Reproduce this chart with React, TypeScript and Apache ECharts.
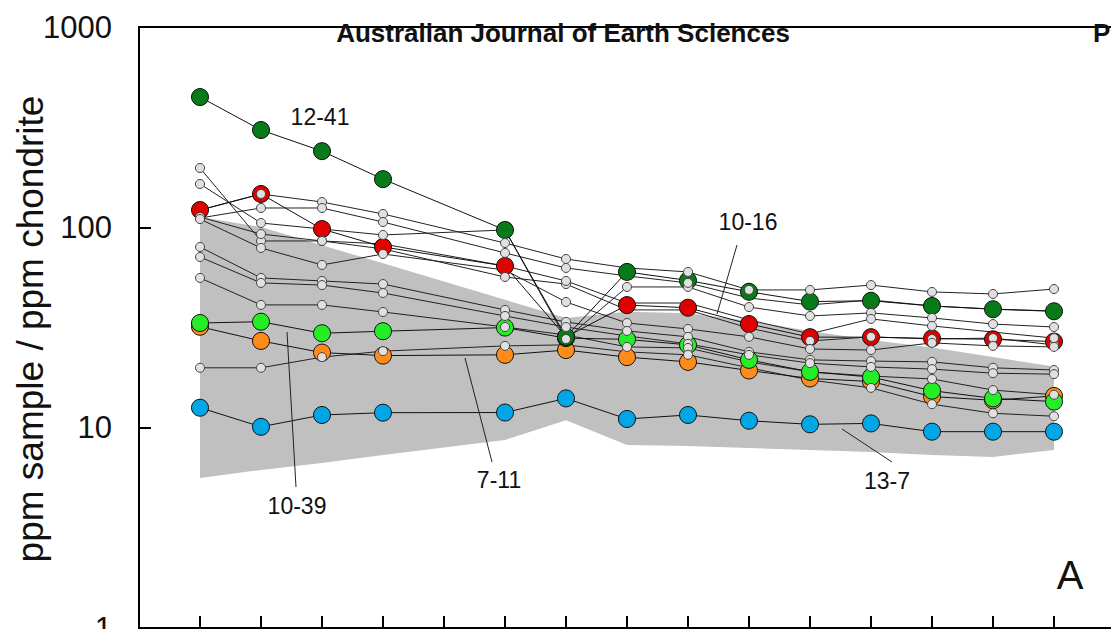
import React, { useEffect, useRef } from "react";
import * as echarts from "echarts";

// Chondrite-normalised REE (Pm not analysed)
const ELEMENTS = ["La", "Ce", "Pr", "Nd", "Pm", "Sm", "Eu", "Gd", "Tb", "Dy", "Ho", "Er", "Tm", "Yb", "Lu"];
const Y_TICKS = [1, 10, 100, 1000];

// grey reference field
const fieldUpper = [112.6, 100.4, 81.4, 66.1, null, 43.5, 35.3, 37.9, 37.2, 34.1, 30.4, 27.4, 25.1, 22.5, 20.2];
const fieldLower = [5.61, 6.15, 6.66, 7.3, null, 8.68, 10.9, 8.19, 8.1, 7.92, 7.74, 7.56, 7.3, 7.14, 7.74];

// highlighted samples
const s12_41 = [447, 306, 240, 174, null, 97, 28.4, 59.9, 54.3, 47.7, 42.6, 43.0, 40.5, 39.0, 38.1];
const s10_16 = [122, 146.7, 98, 79.8, null, 64.1, 28.4, 40.9, 39.7, 32.9, 28.3, 28.3, 27.9, 27.6, 26.9];
const s10_39 = [33.3, 33.8, 29.6, 30.3, null, 31.6, 28.0, 27.6, 25.9, 21.8, 19.0, 17.9, 15.3, 14.0, 13.5];
const s7_11 = [31.9, 27.1, 23.7, 22.9, null, 23.1, 24.4, 22.5, 21.3, 19.3, 17.6, 17.0, 14.3, 13.7, 14.4];
const s13_7 = [12.58, 10.1, 11.57, 11.88, null, 11.9, 14.0, 11.05, 11.57, 10.83, 10.39, 10.5, 9.55, 9.55, 9.55];

// other samples (small symbols)
const sampleA = [197.8, 85.5, 85.5, 78.0, null, 56.5, 52.1, 38.7, 38.7, 31.4, 27.1, 28.4, 27.7, 28.0, 25.9];
const sampleB = [164.6, 105.1, 98.1, 91.6, null, 97.0, 27.7, 50.4, 50.4, 40.0, 36.1, 37.4, 35.3, 32.9, 31.8];
const sampleC = [122.0, 146.7, 133.8, 116.6, null, 83.5, 69.5, 62.7, 59.9, 48.7, 48.7, 51.5, 47.6, 46.5, 49.2];
const sampleD = [111.3, 124.9, 124.9, 106.3, null, 74.5, 62.7, 57.2, 52.8, 44.4, 41.0, 43.4, 40.5, 39.1, 38.2];
const sampleE = [112.6, 92.6, 85.5, 82.6, null, 64.1, 54.0, 41.9, 41.9, 34.5, 29.4, 34.9, 32.2, 30.0, 28.0];
const sampleF = [110.0, 78.9, 64.9, 73.6, null, 61.2, 42.4, 33.3, 31.1, 28.4, 24.7, 24.4, 26.5, 25.6, 25.3];
const sampleG = [79.8, 55.9, 54.0, 52.1, null, 38.7, 33.7, 30.4, 28.4, 23.9, 21.8, 21.5, 21.3, 19.9, 19.4];
const sampleH = [71.1, 52.8, 51.5, 47.0, null, 36.1, 31.8, 28.7, 26.2, 23.1, 21.0, 20.1, 19.6, 18.7, 18.5];
const sampleI = [55.9, 41.0, 41.0, 37.8, null, 31.8, 29.0, 25.3, 25.0, 21.3, 19.0, 18.1, 17.5, 15.4, 14.6];
const sampleJ = [19.9, 19.9, 22.5, 24.1, null, 25.6, 25.9, 23.9, 23.1, 19.9, 17.3, 15.8, 13.1, 11.8, 11.4];

const samples = [sampleA, sampleB, sampleC, sampleD, sampleE, sampleF, sampleG, sampleH, sampleI, sampleJ];
// element indices where a sample's symbol lies under a larger symbol
const covered = [
  [3, 7, 8, 9],
  [2, 5],
  [0, 7],
  [7, 9, 10, 11, 12, 13, 14],
  [3, 5, 7, 8, 9, 10, 13],
  [5],
  [],
  [7],
  [6, 9, 10, 11],
  [6, 7, 9, 10],
];

const highlighted = [
  { name: "13-7", data: s13_7, color: "#00a6e6" },
  { name: "7-11", data: s7_11, color: "#ff8c1a" },
  { name: "10-39", data: s10_39, color: "#26ee26" },
  { name: "10-16", data: s10_16, color: "#e00000" },
  { name: "12-41", data: s12_41, color: "#087a1a" },
];

const FONT = "Liberation Sans, Arial, Helvetica, sans-serif";

function pairs(arr: (number | null)[]) {
  const out: [number, number][] = [];
  arr.forEach((v, i) => {
    if (v != null) out.push([i, v]);
  });
  return out;
}

export default function App() {
  const ref = useRef<HTMLDivElement>(null);
  useEffect(() => {
    if (!ref.current) return;
    const chart = echarts.init(ref.current, undefined, { renderer: "svg" });

    const series: any[] = [];
    series.push({
      type: "custom",
      silent: true,
      z: 1,
      data: [[0, 10]],
      renderItem: (_p: any, api: any) => {
        const pts: number[][] = [];
        fieldUpper.forEach((v, i) => {
          if (v != null) pts.push(api.coord([i, v]));
        });
        for (let i = fieldLower.length - 1; i >= 0; i--) {
          const v = fieldLower[i];
          if (v != null) pts.push(api.coord([i, v]));
        }
        return { type: "polygon", shape: { points: pts }, style: { fill: "#c0c0c0" } };
      },
    });
    samples.forEach((s) => {
      series.push({
        type: "line",
        data: pairs(s),
        symbol: "none",
        z: 2,
        silent: true,
        lineStyle: { color: "#222", width: 1 },
      });
    });
    highlighted.forEach((h) => {
      series.push({
        type: "line",
        name: h.name,
        data: pairs(h.data),
        symbol: "circle",
        symbolSize: 17,
        showSymbol: true,
        z: 3,
        silent: true,
        lineStyle: { color: "#111", width: 1 },
        itemStyle: { color: h.color, borderColor: "#111", borderWidth: 1 },
      });
    });
    const dots: [number, number][] = [];
    samples.forEach((s, k) => {
      s.forEach((v, i) => {
        if (v != null && !covered[k].includes(i)) dots.push([i, v]);
      });
    });
    series.push({
      type: "scatter",
      data: dots,
      symbol: "circle",
      symbolSize: 9,
      z: 4,
      silent: true,
      itemStyle: { color: "#e0e0e0", borderColor: "#444", borderWidth: 1, opacity: 1 },
    });

    const txt = (text: string, x: number, y: number, size: number, extra: any = {}) => ({
      type: "text",
      x,
      y,
      z: 100,
      style: {
        text,
        fill: "#111",
        font: `${extra.bold ? "bold " : ""}${size}px ${FONT}`,
        align: extra.align || "center",
        verticalAlign: "middle",
      },
      rotation: extra.rotation || 0,
    });
    const leader = (x1: number, y1: number, x2: number, y2: number) => ({
      type: "line",
      z: 100,
      shape: { x1, y1, x2, y2 },
      style: { stroke: "#222", lineWidth: 1 },
    });

    chart.setOption({
      animation: false,
      backgroundColor: "#fff",
      grid: {
        left: 139,
        top: 27,
        width: 976,
        height: 601,
        outerBoundsMode: "none",
        containLabel: false,
        show: true,
        borderColor: "#000",
        borderWidth: 2,
        backgroundColor: "transparent",
      },
      xAxis: {
        type: "value",
        min: -1,
        max: 15,
        interval: 1,
        axisLine: { show: true, onZero: false, lineStyle: { color: "#000", width: 2 } },
        axisTick: { show: true, inside: true, length: 12, lineStyle: { color: "#000", width: 2 } },
        axisLabel: { show: false },
        splitLine: { show: false },
      },
      yAxis: {
        type: "log",
        logBase: 10,
        min: Y_TICKS[0],
        max: Y_TICKS[Y_TICKS.length - 1],
        axisLine: { show: true, onZero: false, lineStyle: { color: "#000", width: 2 } },
        axisTick: { show: true, inside: true, length: 12, lineStyle: { color: "#000", width: 2 } },
        minorTick: { show: false },
        splitLine: { show: false },
        axisLabel: {
          color: "#111",
          fontSize: 31,
          fontFamily: FONT,
          margin: 27,
          formatter: (v: number) => String(Math.round(v)),
        },
      },
      series,
      graphic: [
        txt("Australian Journal of Earth Sciences", 563, 33, 26, { bold: true }),
        txt("P", 1093, 33, 26, { bold: true, align: "left" }),
        txt("ppm sample / ppm chondrite", 30, 329, 37, { rotation: Math.PI / 2 }),
        txt("12-41", 320, 117, 23),
        txt("10-16", 748, 222, 23),
        txt("10-39", 297, 506, 23),
        txt("7-11", 499, 480, 23),
        txt("13-7", 887, 481, 23),
        txt("A", 1070, 575, 40),
        leader(287, 332, 296, 487),
        leader(465, 358, 492, 462),
        leader(737, 245, 717, 314),
        leader(842, 429, 892, 462),
      ],
    });
    return () => chart.dispose();
  }, []);
  return (
    <div
      ref={ref}
      style={{ position: "fixed", left: 0, top: 0, width: 1111, height: 629, background: "#fff" }}
    />
  );
}
